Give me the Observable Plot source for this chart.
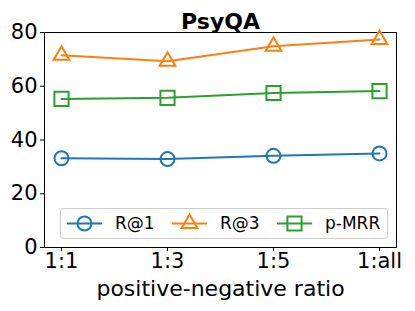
<!DOCTYPE html>
<html>
<head>
<meta charset="utf-8">
<script src="https://cdn.jsdelivr.net/npm/d3@7"></script>
<script src="https://cdn.jsdelivr.net/npm/@observablehq/plot@0.6"></script>
<style>
  html, body { margin: 0; padding: 0; background: #fff; }
  #chart { position: relative; width: 415px; height: 311px; }
</style>
</head>
<body>
<div id="chart"></div>
<script>
const title = "PsyQA";
const xLabel = "positive-negative ratio";
const ratios = ["1:1", "1:3", "1:5", "1:all"];
const r1 = [33.2, 32.9, 34.1, 35.0];
const r3 = [71.5, 69.3, 74.9, 77.4];
const pmrr = [55.3, 55.7, 57.5, 58.2];
const yTicks = [0, 20, 40, 60, 80];
const seriesNames = ["R@1", "R@3", "p-MRR"];
const seriesColors = ["#1f77b4", "#ff7f0e", "#2ca02c"];
const seriesSymbols = ["circle", "triangle", "square"];

const seriesValues = [r1, r3, pmrr];
const markR = {circle: 7, triangle: 5.8, square: 8};
const rows = seriesNames.map((name, i) => ratios.map((r, j) => ({series: name, ratio: r, value: seriesValues[i][j]})));

const marks = [];
rows.forEach((data, i) => {
  marks.push(Plot.line(data, {x: "ratio", y: "value", stroke: seriesColors[i], strokeWidth: 2}));
  marks.push(Plot.dot(data, {x: "ratio", y: "value", stroke: seriesColors[i], strokeWidth: 2, fill: "none", symbol: seriesSymbols[i], r: markR[seriesSymbols[i]]}));
});

const chart = Plot.plot({
  width: 415,
  height: 311,
  marginLeft: 44,
  marginRight: 19,
  marginTop: 32,
  marginBottom: 64,
  style: {fontFamily: "DejaVu Sans", fontSize: "21px", color: "#000", background: "#fff"},
  x: {type: "point", domain: ratios, padding: 0.15, label: null},
  y: {domain: [0, 80], label: null},
  marks: [
    Plot.frame({stroke: "#000", strokeWidth: 1}),
    Plot.axisY({ticks: yTicks, tickSize: 4, tickPadding: 3, fontSize: 21, label: null}),
    Plot.axisX({tickSize: 4, tickPadding: 2, fontSize: 21, label: null}),
    Plot.text([title], {frameAnchor: "top", text: d => d, lineAnchor: "bottom", dy: -4, fontSize: 22, fontWeight: "bold", fill: "#000"}),
    Plot.text([xLabel], {frameAnchor: "bottom", text: d => d, lineAnchor: "bottom", dy: 48, fontSize: 22, fill: "#000"}),
    ...marks
  ]
});
document.getElementById("chart").appendChild(chart);

const svg = d3.select(chart);
// enforce tick label size
svg.selectAll('g[aria-label$="tick label"]').attr("font-size", 21).style("font-size", "21px");
svg.selectAll('g[aria-label$="tick label"] text').attr("font-size", 21).style("font-size", "21px");

// Legend
const lg = svg.append("g").attr("font-family", "DejaVu Sans").attr("font-size", 17).attr("text-anchor", "start");
lg.append("rect").attr("x", 60.5).attr("y", 208.5).attr("width", 327).attr("height", 30).attr("rx", 3)
  .attr("fill", "#fff").attr("fill-opacity", 0.8).attr("stroke", "#cccccc");
const itemX = [67, 172, 277];
seriesNames.forEach((name, i) => {
  const g = lg.append("g").attr("transform", `translate(${itemX[i]},223.5)`);
  g.append("line").attr("x1", 0).attr("x2", 35).attr("stroke", seriesColors[i]).attr("stroke-width", 2);
  const sym = {circle: d3.symbolCircle, triangle: d3.symbolTriangle, square: d3.symbolSquare}[seriesSymbols[i]];
  const r = markR[seriesSymbols[i]];
  g.append("path").attr("transform", "translate(17.5,0)").attr("d", d3.symbol(sym, Math.PI * r * r)())
    .attr("fill", "none").attr("stroke", seriesColors[i]).attr("stroke-width", 2);
  g.append("text").attr("x", 48).attr("y", 0).attr("dy", "0.35em").attr("fill", "#000").text(name);
});
</script>
</body>
</html>
